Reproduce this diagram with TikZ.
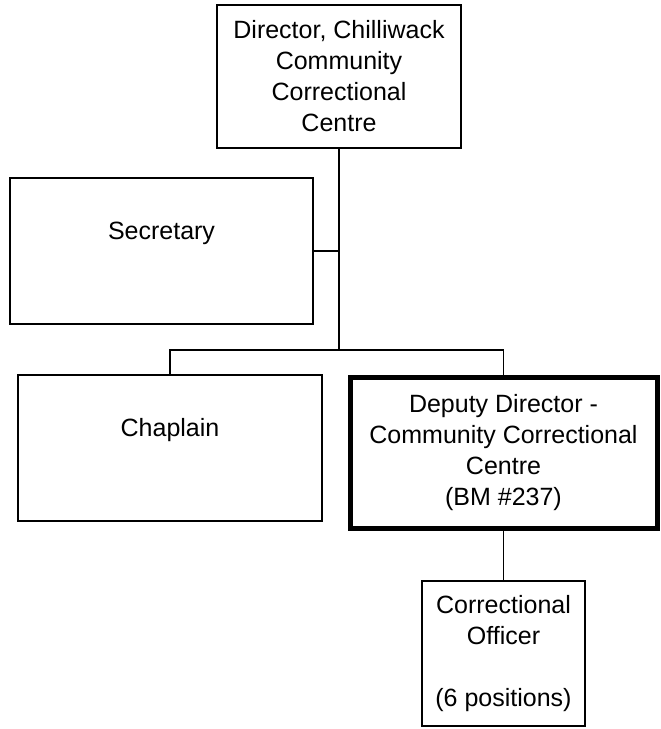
\documentclass[tikz,border=0pt]{standalone}
\usepackage{fontspec}
\setmainfont{Liberation Sans}
\tikzset{
  post/.style={draw, line width=1.3pt, inner sep=0pt, align=center,
    font=\fontsize{25}{31}\selectfont},
  keypost/.style={post, line width=5pt},
  link/.style={line width=1.3pt}
}
\newcommand{\postbox}[5]{\node[#1, minimum width=#4pt, minimum height=#5pt] (#2) at (#3) }

\begin{document}
\begin{tikzpicture}[x=1pt, y=-1pt]
\useasboundingbox (0,0) rectangle (661,729);
% posts
\postbox{post}{director}{339,76.5}{244}{143} {Director, Chilliwack\\Community\\Correctional\\Centre};
\postbox{post}{secretary}{161.5,251}{303}{146} {Secretary\\\strut};
\postbox{post}{chaplain}{170,448}{304}{146} {Chaplain\\\strut};
\postbox{keypost}{deputy}{503.5,452.5}{307}{151} {Deputy Director -\\Community Correctional\\Centre\\(BM \#237)};
\postbox{post}{officer}{503.5,653.5}{163}{145} {Correctional\\Officer\\\strut\\(6 positions)};
% reporting lines
\coordinate (split) at (director.south |- 0,350);
\draw[link] (director.south) -- (split);
\draw[link] (secretary.east) -- (secretary.east -| split);
\draw[link] (chaplain.north) |- (split) -| (deputy.north);
\draw[link] (deputy.south) -- (officer.north);
\end{tikzpicture}
\end{document}
